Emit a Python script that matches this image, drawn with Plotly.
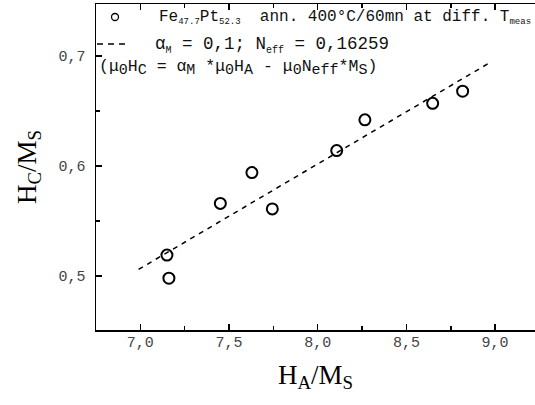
import plotly.graph_objects as go

# data
ha_ms = [7.150, 7.161, 7.451, 7.629, 7.744, 8.107, 8.266, 8.648, 8.817]
hc_ms = [0.519, 0.498, 0.566, 0.594, 0.561, 0.614, 0.642, 0.657, 0.668]
fit_x = [6.99, 8.96]
fit_y = [0.506, 0.693]
x_ticks = [7.0, 7.5, 8.0, 8.5, 9.0]
y_ticks = [0.5, 0.6, 0.7]

W, H = 535, 405
L, R, T, B = 96, 0, 4, 75
PW, PH = W - L - R, H - T - B

def px(x):
    return (x - L) / PW

def py(y):
    return 1 - (y - T) / PH

MONO = "Liberation Mono, Courier New, monospace"
SERIF = "Liberation Serif, Times New Roman, serif"

fig = go.Figure()
fig.add_trace(go.Scatter(x=fit_x, y=fit_y, mode="lines", xaxis="x2",
                         line=dict(color="black", width=1.5, dash="5px,5px"),
                         showlegend=False, hoverinfo="skip"))
fig.add_trace(go.Scatter(x=ha_ms, y=hc_ms, mode="markers",
                         marker=dict(symbol="circle-open", size=11, color="black",
                                     line=dict(width=2, color="black")),
                         showlegend=False))

def sub(s, size):
    return '<sub><span style="font-size:%spx">%s</span></sub>' % (size, s)

nb = "\u00a0"
row1 = ("Fe" + sub("47.7", 9) + "Pt" + sub("52.3", 9) + nb * 2 + "ann." + nb + "400°C/60mn"
        + nb + "at" + nb + "diff." + nb + "T" + sub("meas", 9))
row2 = "α" + sub("M", 10) + nb + "=" + nb + "0,1;" + nb + "N" + sub("eff", 10) + nb + "=" + nb + "0,16259"
S3 = 15
row3 = ("(μ" + sub("0", S3) + "H" + sub("C", S3) + nb + "=" + nb + "α" + sub("M", S3) + nb + "*μ" + sub("0", S3)
        + "H" + sub("A", S3) + nb + "-" + nb + "μ" + sub("0", S3) + "N" + sub("eff", S3) + "*M" + sub("S", S3) + ")")

annotations = []
for txt, x, y, fs in [(row1, 157, 18, 16), (row2, 153, 45, 17.5), (row3, 97, 68, 16.5)]:
    annotations.append(dict(text=txt, xref="paper", yref="paper", x=px(x), y=py(y),
                            xanchor="left", yanchor="middle", showarrow=False,
                            font=dict(family=MONO, size=fs, color="#111")))

shapes = [
    dict(type="circle", xref="paper", yref="paper", xsizemode="pixel", ysizemode="pixel",
         xanchor=px(115), yanchor=py(17), x0=-3.5, x1=3.5, y0=-3.5, y1=3.5,
         line=dict(color="black", width=1.3)),
    dict(type="line", xref="paper", yref="paper", x0=px(97), x1=px(130), y0=py(44), y1=py(44),
         line=dict(color="black", width=1.5, dash="6px,5px")),
]

axis_common = dict(showline=True, linecolor="black", linewidth=1.5, ticks="inside",
                   ticklen=6, tickwidth=1.5, tickcolor="black", showgrid=False,
                   zeroline=False, tickformat=".1f", automargin=False,
                   tickfont=dict(family=MONO, size=15, color="#444"))
xminor = dict(ticks="inside", ticklen=4, tickwidth=1.5, dtick=0.25, tick0=7,
              tickcolor="black", showgrid=False)

fig.update_layout(
    width=W, height=H, margin=dict(l=L, r=R, t=T, b=B),
    paper_bgcolor="white", plot_bgcolor="white", separators=", ",
    showlegend=False,
    xaxis=dict(range=[6.75, 9.225], tickvals=x_ticks, minor=xminor,
               ticklabelstandoff=-3,
               title=dict(text="H<sub>A</sub>/M<sub>S</sub>", font=dict(family=SERIF, size=27, color="black"),
                          standoff=14),
               **axis_common),
    xaxis2=dict(range=[6.75, 9.225], tickvals=x_ticks, minor=xminor, overlaying="x",
                side="top", anchor="y", matches="x", showticklabels=False,
                **axis_common),
    yaxis=dict(range=[0.4509, 0.7473], tickvals=y_ticks,
               minor=dict(ticks="inside", ticklen=4, tickwidth=1.5, dtick=0.05, tick0=0.5,
                          tickcolor="black", showgrid=False),
               ticklabelstandoff=6,
               title=dict(text="H<sub>C</sub>/M<sub>S</sub>", font=dict(family=SERIF, size=27, color="black"),
                          standoff=14),
               **axis_common),
    annotations=annotations, shapes=shapes,
)

fig.write_html("out.html", config={"displayModeBar": False, "staticPlot": True},
               post_script="document.body.style.margin='0';document.body.style.padding='0';")
